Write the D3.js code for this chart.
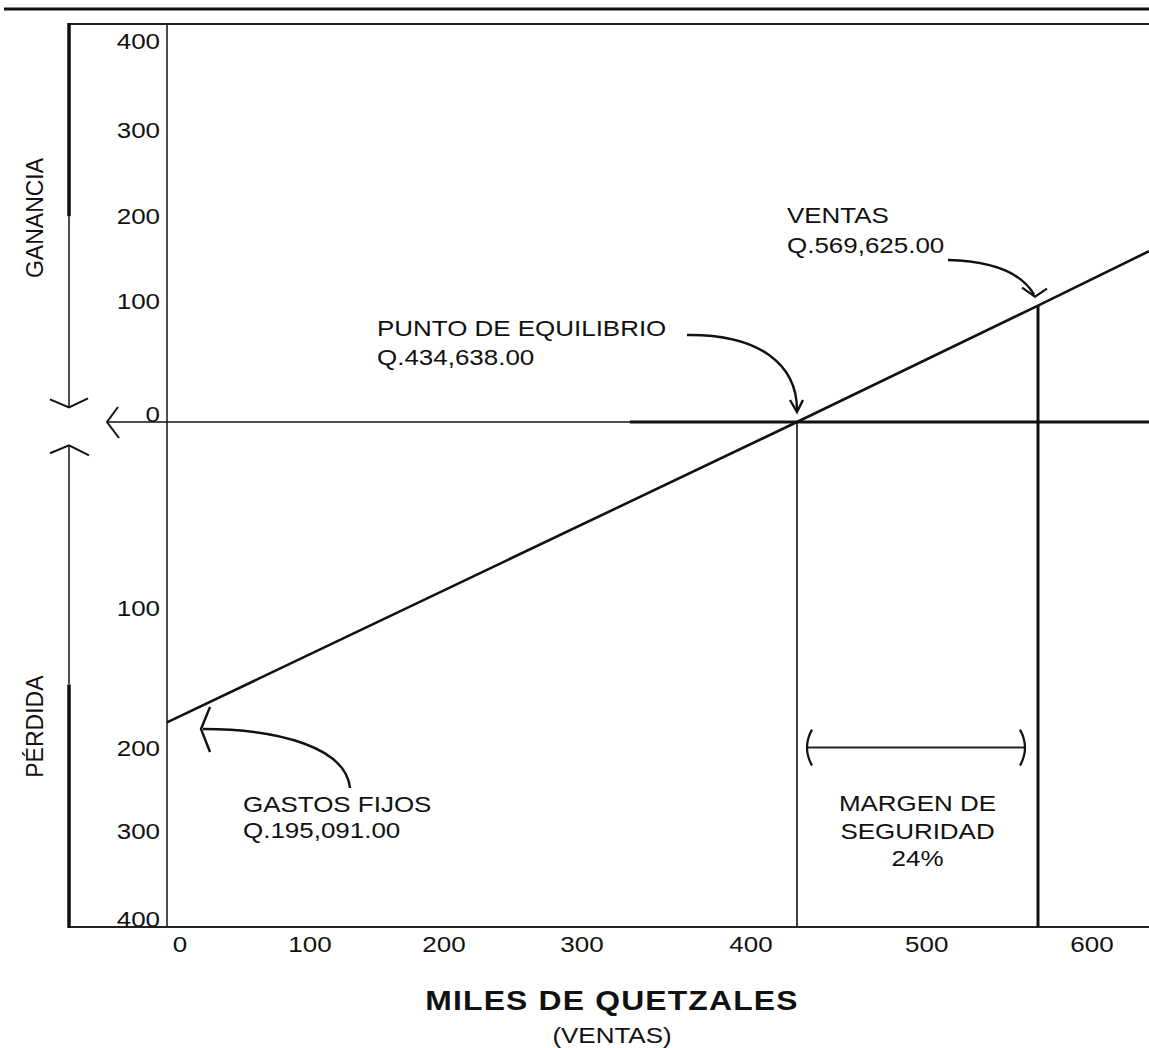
<html>
<head>
<script src="https://d3js.org/d3.v7.min.js"></script>
<style>
  body { margin: 0; background: #fff; }
  text { font-family: "Liberation Sans", Arial, sans-serif; fill: #111; }
</style>
</head>
<body>
<script>
// valores en miles de quetzales
var xTicks = [0, 100, 200, 300, 400, 500, 600];
var yTicksGanancia = [400, 300, 200, 100, 0];
var yTicksPerdida = [100, 200, 300, 400];
var puntoEquilibrio = 434.638;
var ventas = 569.625;
var gastosFijos = 195.091;
var margenSeguridad = 24;
// linea de resultado (x = ventas, y = ganancia/perdida)
var lineX = [0, 434.638, 569.625, 650];
var lineY = [-176, 0, 104, 168];

var W = 1149, H = 1048;
var svg = d3.select("body").append("svg").attr("width", W).attr("height", H);

// the drawing is not to scale, so the scales are piecewise
var x = d3.scaleLinear()
  .domain([0, 100, 200, 300, 400, puntoEquilibrio, ventas, 600, 650])
  .range([167, 297, 431, 569, 738, 797, 1038, 1079, 1149]);
var y = d3.scaleLinear()
  .domain([428, 400, 300, 200, 100, 0, -100, -200, -300, -400])
  .range([24, 49, 138, 224, 309, 422, 616, 756, 839, 927]);

var STRETCH = 1.18;
function txt(g, px, py, s, anchor, size, weight) {
  return g.append("text")
    .attr("transform", "translate(" + px + "," + py + ") scale(" + STRETCH + ",1)")
    .attr("text-anchor", anchor || "start")
    .style("font-size", (size || 22) + "px")
    .style("font-weight", weight || "normal")
    .text(s);
}
function seg(x1, y1, x2, y2, w, c) {
  svg.append("line").attr("x1", x1).attr("y1", y1).attr("x2", x2).attr("y2", y2)
    .attr("stroke", c || "#111").attr("stroke-width", w);
}
var poly = d3.line();
function path(pts, w) {
  svg.append("path").attr("d", poly(pts)).attr("fill", "none")
    .attr("stroke", "#111").attr("stroke-width", w || 2).attr("stroke-linejoin", "miter");
}

var xLeft = 69, yTop = y(428), yBottom = y(-400);

// top rule + frame
seg(4, 9, W, 9, 3);
seg(xLeft - 1, yTop, W, yTop, 2, "#222");
seg(xLeft - 1, yBottom, W, yBottom, 2, "#222");
seg(x(0), yTop, x(0), yBottom, 1.6, "#222");

// left GANANCIA / PERDIDA arrows
seg(xLeft, yTop - 1, xLeft, y(209), 3.5);
seg(xLeft, y(209), xLeft, y(13), 1.5);
path([[xLeft - 19, y(13) - 8], [xLeft, y(13)], [xLeft + 19, y(13) - 9]], 2);
seg(xLeft, y(-12), xLeft, y(-149), 1.5);
seg(xLeft, y(-149), xLeft, yBottom + 1, 3.5);
path([[xLeft - 19, y(-12) + 8], [xLeft, y(-12)], [xLeft + 20, y(-12) + 10]], 2);

// zero line with arrow
seg(107, y(0), W, y(0), 1.5);
seg(x(336), y(0), W, y(0), 3);
path([[118, y(0) - 15], [107, y(0)], [119, y(0) + 16]], 2);

// rotated labels
svg.append("text").attr("transform", "translate(43," + y(207) + ") rotate(-90)")
  .attr("text-anchor", "middle").style("font-size", "23px").text("GANANCIA");
svg.append("text").attr("transform", "translate(43," + y(-179) + ") rotate(-90)")
  .attr("text-anchor", "middle").style("font-size", "23px").text("PÉRDIDA");

// y tick labels
yTicksGanancia.forEach(function(v) { txt(svg, 160, y(v), v, "end"); });
yTicksPerdida.forEach(function(v) { txt(svg, 160, y(-v), v, "end"); });

// x tick labels
xTicks.forEach(function(v) { txt(svg, x(v) + 13, 952, v, "middle"); });

// vertical lines at breakeven and sales
seg(x(puntoEquilibrio), y(0), x(puntoEquilibrio), yBottom, 1.6);
seg(x(ventas), y(104), x(ventas), yBottom, 3);

// result line
var lineData = lineX.map(function(v, i) { return [x(v), y(lineY[i])]; });
svg.append("path").attr("d", d3.line()(lineData))
  .attr("fill", "none").attr("stroke", "#111").attr("stroke-width", 2.6);

// curved annotation arrows
function curve(p0, c1, c2, p1, w) {
  var p = d3.path();
  p.moveTo(p0[0], p0[1]);
  p.bezierCurveTo(c1[0], c1[1], c2[0], c2[1], p1[0], p1[1]);
  svg.append("path").attr("d", p.toString()).attr("fill", "none")
    .attr("stroke", "#111").attr("stroke-width", w || 2.4);
}

// punto de equilibrio
var pe = [x(puntoEquilibrio), y(0)];
txt(svg, 377, 336, "PUNTO DE EQUILIBRIO");
txt(svg, 377, 365, "Q.434,638.00");
curve([687, 335], [760, 334], [pe[0], 365], [pe[0], pe[1] - 12]);
path([[pe[0] - 7, pe[1] - 22], [pe[0], pe[1] - 10], [pe[0] + 6, pe[1] - 22]], 2.4);

// ventas
var vp = [x(ventas), y(104)];
txt(svg, 787, 223, "VENTAS");
txt(svg, 787, 253, "Q.569,625.00");
curve([948, 260], [985, 261], [1020, 270], [vp[0] - 4, vp[1] - 11]);
path([[vp[0] - 16, vp[1] - 18], [vp[0] - 3, vp[1] - 9], [vp[0] + 9, vp[1] - 17]], 2.2);

// gastos fijos
txt(svg, 243, 812, "GASTOS FIJOS");
txt(svg, 243, 838, "Q.195,091.00");
curve([350, 788], [346, 748], [280, 729], [203, 729]);
path([[210, 707], [201, 729], [210, 752]], 2.4);

// margen de seguridad
var my = y(-194);
var mx1 = x(puntoEquilibrio) + 11, mx2 = x(ventas) - 14;
seg(mx1, my, mx2, my, 2, "#222");
svg.append("path").attr("d", "M" + (mx1 + 4) + "," + (my - 18) + " Q" + (mx1 - 6) + "," + my + " " + (mx1 + 4) + "," + (my + 18))
  .attr("fill", "none").attr("stroke", "#111").attr("stroke-width", 2.2);
svg.append("path").attr("d", "M" + (mx2 - 4) + "," + (my - 18) + " Q" + (mx2 + 6) + "," + my + " " + (mx2 - 4) + "," + (my + 18))
  .attr("fill", "none").attr("stroke", "#111").attr("stroke-width", 2.2);
var mc = (x(puntoEquilibrio) + x(ventas)) / 2;
txt(svg, mc, 811, "MARGEN DE", "middle");
txt(svg, mc, 839, "SEGURIDAD", "middle");
txt(svg, mc, 866, margenSeguridad + "%", "middle");

// axis title
txt(svg, 612, 1010, "MILES DE QUETZALES", "middle", 27, "bold").style("letter-spacing", "1px");
txt(svg, 612, 1043, "(VENTAS)", "middle");
</script>
</body>
</html>
